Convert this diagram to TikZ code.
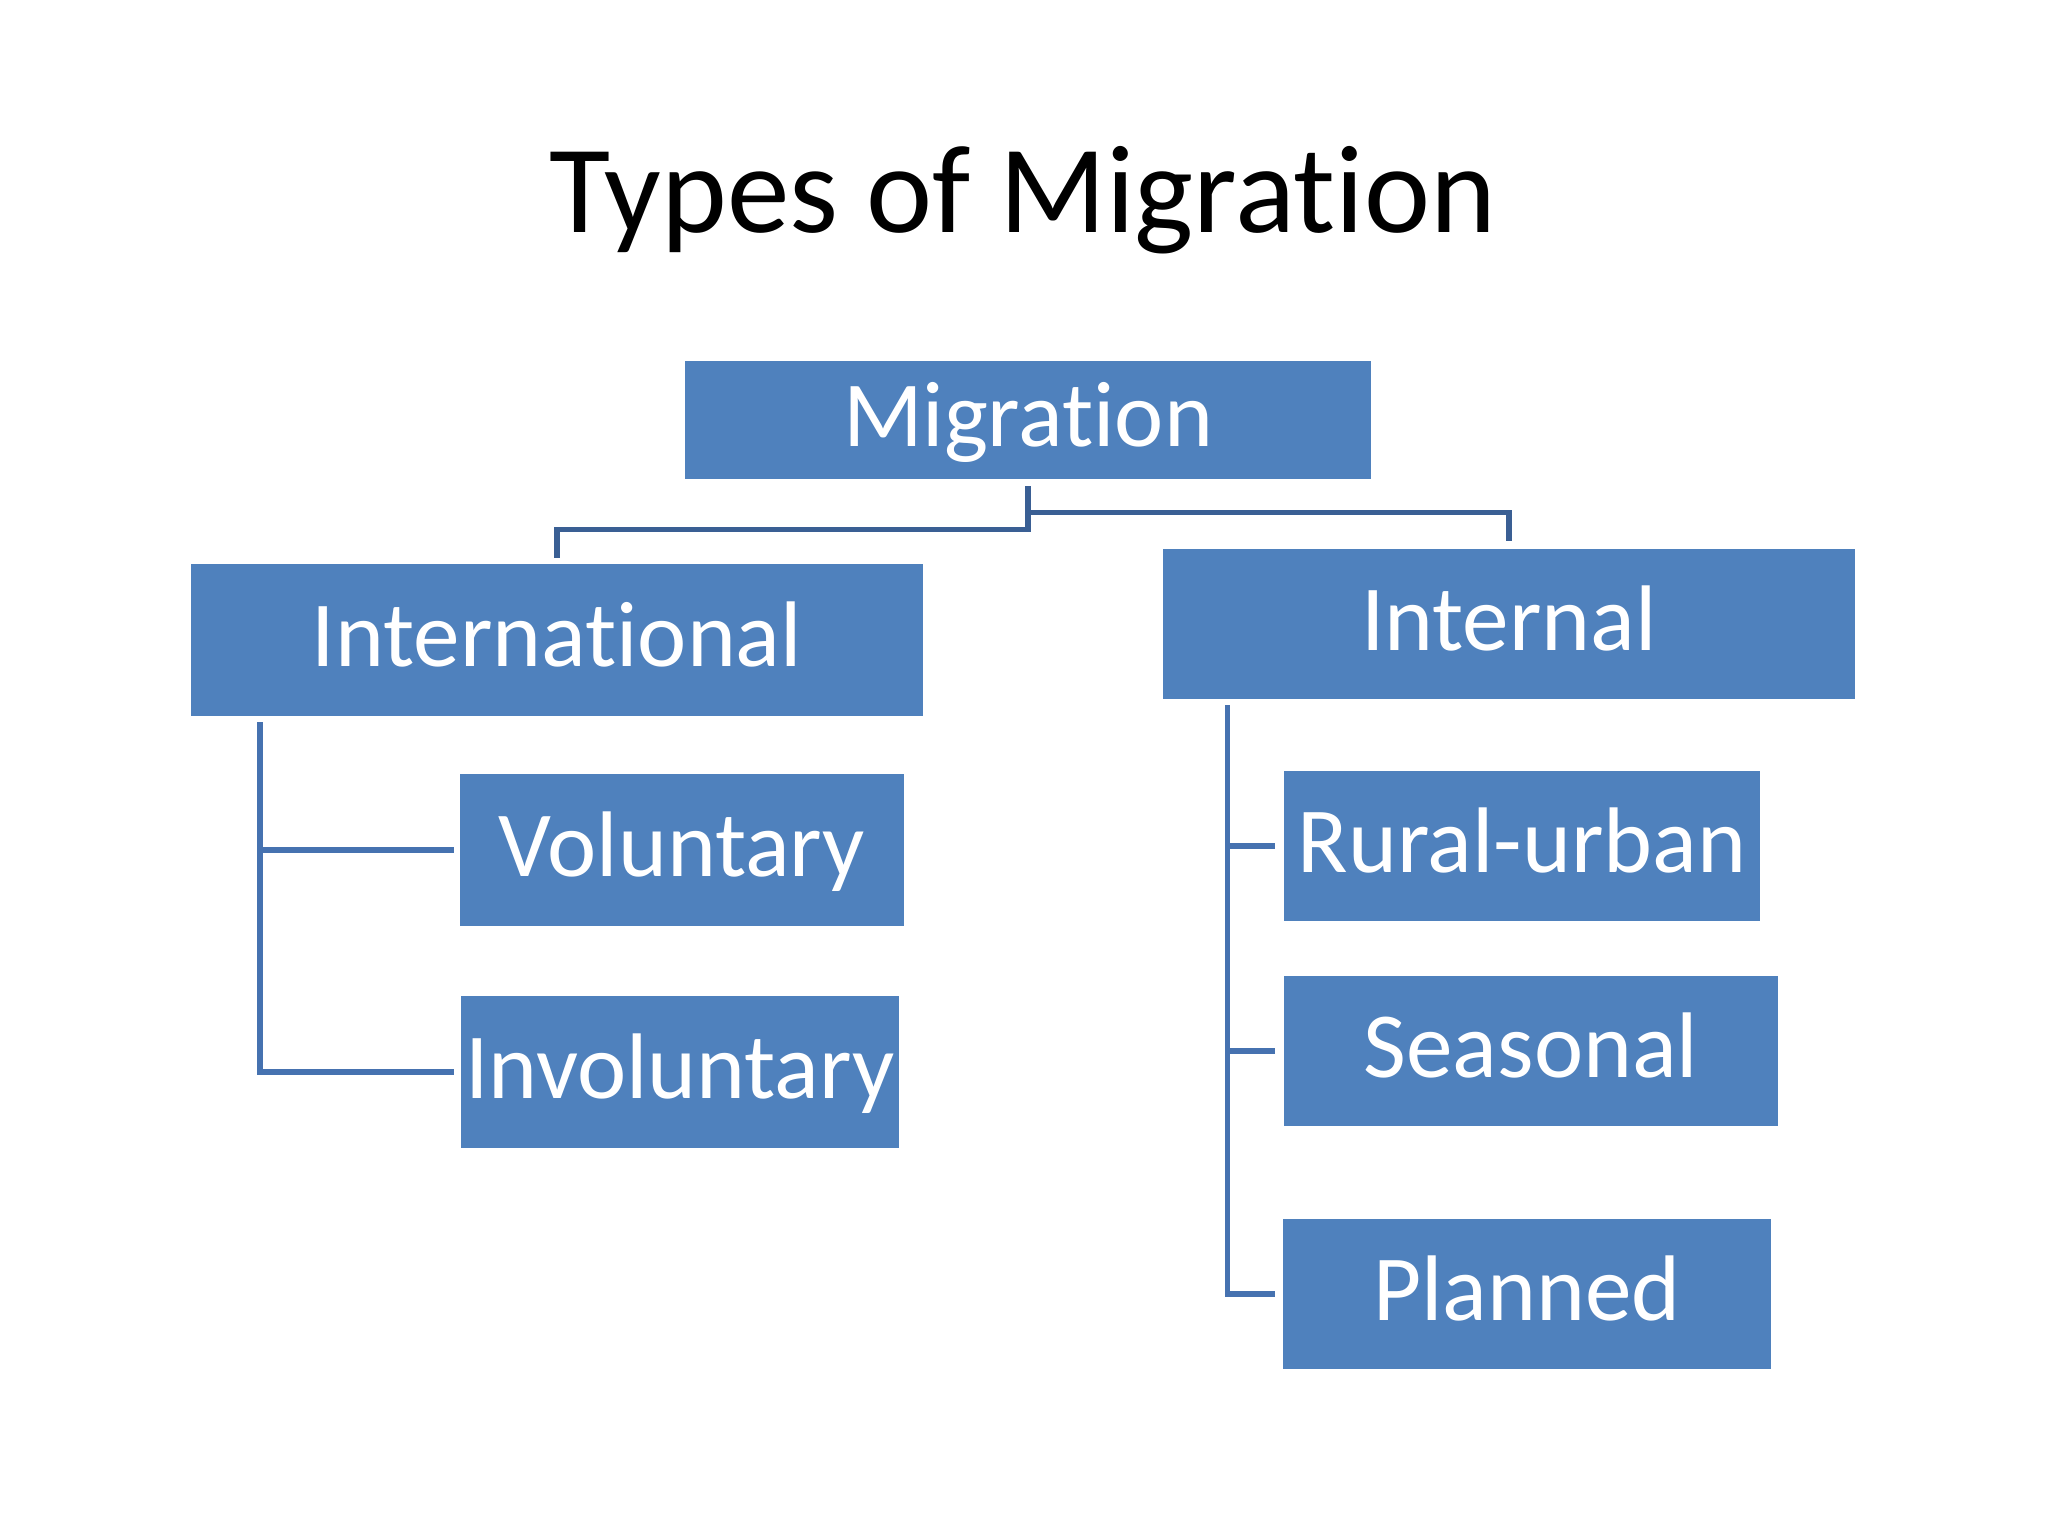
\documentclass[tikz,border=0pt]{standalone}
\usepackage{fontspec}
\setmainfont{Carlito}[Ligatures=NoCommon]
\usepackage{tikz}
\usetikzlibrary{calc,positioning}

\definecolor{boxblue}{HTML}{4F81BD}
\definecolor{topblue}{HTML}{3A5F94}
\definecolor{subblue}{HTML}{4672B0}

\tikzset{
  kind/.style={fill=boxblue, text=white, inner sep=0pt,
    font=\fontsize{26.5}{28}\selectfont, text height=17.5pt, text depth=2.6pt},
  topline/.style={draw=topblue, line width=1.45pt},
  subline/.style={draw=subblue, line width=1.6pt}
}

\begin{document}
\begin{tikzpicture}[x=0.01cm, y=-0.01cm]
  \useasboundingbox (0,0) rectangle (2048,1536);
  \node[anchor=base, font=\fontsize{35.6}{40}\selectfont] (title) at (1023,232) {Types of Migration};
  \node[kind, minimum width=6.85cm, minimum height=1.17cm] (migration) at (1028,420) {Migration};
  \node[kind, minimum width=7.32cm, minimum height=1.51cm] (intl) at (557,640) {International};
  \node[kind, minimum width=6.91cm, minimum height=1.49cm] (internal) at (1509,624) {Internal};
  \node[kind, minimum width=4.43cm, minimum height=1.51cm] (vol) at (682,850) {Voluntary};
  \node[kind, minimum width=4.38cm, minimum height=1.51cm] (invol) at (680,1072) {Involuntary};
  \node[kind, minimum width=4.76cm, minimum height=1.49cm] (rural) at (1522,846) {Rural-urban};
  \node[kind, minimum width=4.94cm, minimum height=1.49cm] (seasonal) at (1531,1051) {Seasonal};
  \node[kind, minimum width=4.87cm, minimum height=1.49cm] (planned) at (1527,1294) {Planned};
  \coordinate (intltrunk) at ($(intl.south west)+(70,6)$);
  \coordinate (inttrunk) at ($(internal.south west)+(65,6)$);
  \draw[topline] (migration.south) ++(0,7) -- ++(0,43) -| ($(intl.north)+(0,-6)$);
  \draw[topline] (migration.south) ++(0,7) -- ++(0,26) -| ($(internal.north)+(0,-8)$);
  \draw[subline] (intltrunk) |- ($(vol.west)+(-6,0)$);
  \draw[subline] (intltrunk) |- ($(invol.west)+(-6,0)$);
  \draw[subline] (inttrunk) |- ($(rural.west)+(-8,0)$);
  \draw[subline] (inttrunk) |- ($(seasonal.west)+(-8,0)$);
  \draw[subline] (inttrunk) |- ($(planned.west)+(-8,0)$);
\end{tikzpicture}
\end{document}
